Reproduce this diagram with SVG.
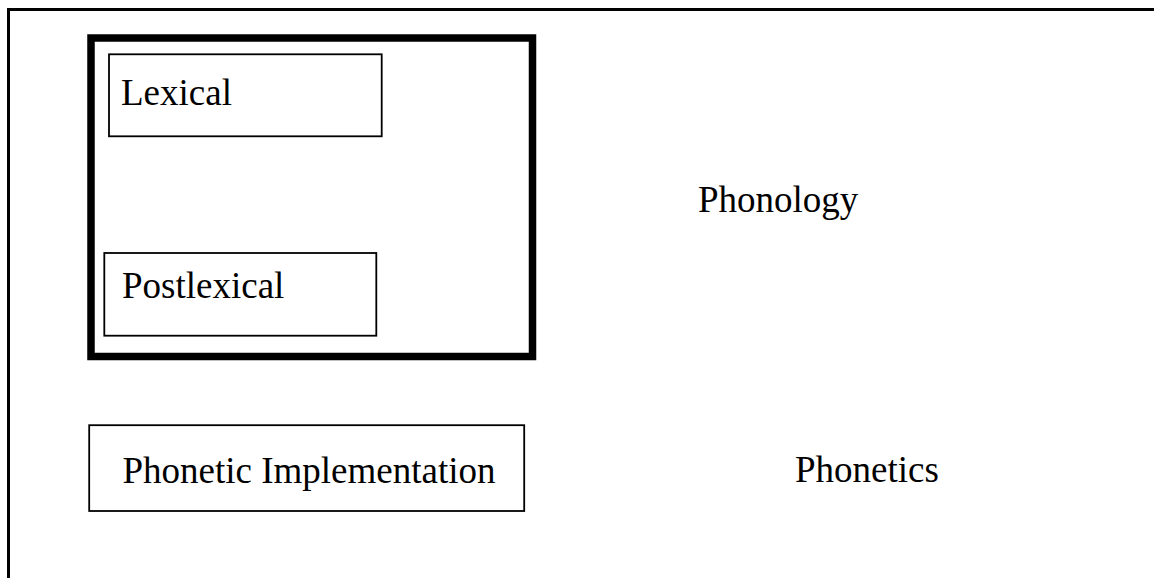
<svg xmlns="http://www.w3.org/2000/svg" width="1154" height="578" viewBox="0 0 1154 578">
<style>
text{font-family:"Liberation Serif","Times New Roman",serif;font-size:37px;fill:#000}
.box{fill:#fff;stroke:#000;stroke-width:1.8}
</style>
<rect width="1154" height="578" fill="#fff"/>
<g id="frame" stroke="#000" stroke-width="3" fill="none">
<line x1="7" y1="9.5" x2="1154" y2="9.5"/>
<line x1="8.5" y1="8" x2="8.5" y2="578"/>
</g>
<g id="phonology-box"><rect x="91" y="38" width="441.5" height="318.5" fill="#fff" stroke="#000" stroke-width="7.5"/></g>
<g id="lexical"><rect class="box" x="109" y="54.3" width="272.7" height="82"/><text x="121" y="104.5">Lexical</text></g>
<g id="postlexical"><rect class="box" x="104.3" y="253" width="272" height="82.7"/><text x="122" y="297.5">Postlexical</text></g>
<g id="phonetic-implementation"><rect class="box" x="89.2" y="425.2" width="435" height="85.8"/><text x="122.5" y="483">Phonetic Implementation</text></g>
<g id="phonology-label"><text x="698" y="212">Phonology</text></g>
<g id="phonetics-label"><text x="795" y="481.5">Phonetics</text></g>
<g id="connectors"/>
</svg>
